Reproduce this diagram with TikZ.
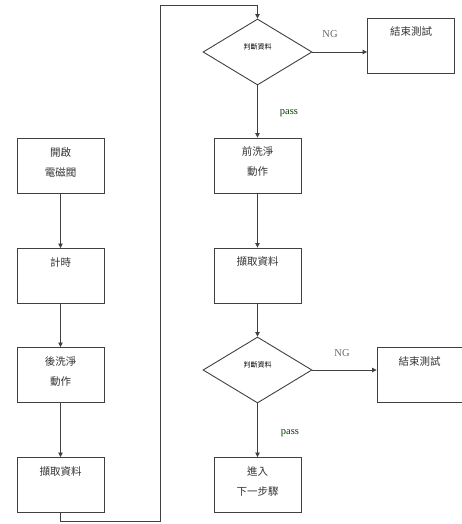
\documentclass[tikz,border=0pt]{standalone}
\usepackage{fontspec}
\newfontfamily\cjk{Noto Sans CJK TC}
\newfontfamily\lser{Liberation Serif}
\usetikzlibrary{shapes.geometric,arrows.meta}
\begin{document}
\begin{tikzpicture}[x=1pt,y=-1pt,
  box/.style={draw=black!75,line width=0.9pt,minimum width=87pt,minimum height=55pt,inner sep=0pt},
  boxtxt/.style={font=\cjk\fontsize{10.5}{20}\selectfont,text=black!80,align=center,anchor=north},
  dec/.style={draw=black!75,line width=0.9pt,diamond,aspect=1.66,minimum width=109pt,minimum height=66pt,inner sep=0pt},
  dtxt/.style={font=\cjk\fontsize{7}{8}\selectfont,text=black},
  conn/.style={draw=black!75,line width=0.8pt},
  arr/.style={conn,-{Triangle[length=4.5pt,width=4.5pt]}},
  lbl/.style={font=\lser\fontsize{10.5}{12}\selectfont,text=black!60},
  plbl/.style={lbl,text=black!50!green!50!black}]
\useasboundingbox (0,0) rectangle (462,524);
% left column
\node[box] (a1) at (60.5,166) {};
\node[boxtxt] at ([yshift=-6pt]a1.north) {開啟\\電磁閥};
\node[box] (a2) at (60.5,276) {};
\node[boxtxt] at ([yshift=-6pt]a2.north) {計時};
\node[box] (a3) at (60.5,375) {};
\node[boxtxt] at ([yshift=-6pt]a3.north) {後洗淨\\動作};
\node[box] (a4) at (60.5,485) {};
\node[boxtxt] at ([yshift=-6pt]a4.north) {擷取資料};
% right column
\node[dec] (d1) at (257.5,52) {};
\node[dtxt] at (257.5,47) {判斷資料};
\node[box] (e1) at (411,45.5) {};
\node[boxtxt] at ([yshift=-6pt]e1.north) {結束測試};
\node[box] (b1) at (257.5,165.5) {};
\node[boxtxt] at ([yshift=-6pt]b1.north) {前洗淨\\動作};
\node[box] (b2) at (257.5,275.5) {};
\node[boxtxt] at ([yshift=-6pt]b2.north) {擷取資料};
\node[dec] (d2) at (257.5,370) {};
\node[dtxt] at (257.5,365) {判斷資料};
\node[box,minimum width=85pt] (e2) at (419.5,375) {};
\node[boxtxt] at ([yshift=-6pt]e2.north) {結束測試};
\node[box] (b3) at (257.5,485) {};
\node[boxtxt] at ([yshift=-6pt]b3.north) {進入\\下一步驟};
% connectors
\draw[arr] (a1) -- (a2);
\draw[arr] (a2) -- (a3);
\draw[arr] (a3) -- (a4);
\coordinate (c1) at (60.5,521);
\coordinate (c2) at (160,521);
\coordinate (c3) at (160,5);
\coordinate (c4) at (257.5,5);
\draw[arr] (a4.south) -- (c1) -- (c2) -- (c3) -- (c4) -- (d1.north);
\draw[arr] (d1.east) -- (e1.west |- d1.east);
\draw[arr] (d1.south) -- (b1.north);
\draw[arr] (b1) -- (b2);
\draw[arr] (b2) -- (d2.north);
\draw[arr] (d2.east) -- (e2.west |- d2.east);
\draw[arr] (d2.south) -- (b3.north);
% labels
\node[lbl] at (330,34) {NG};
\node[lbl] at (342,353) {NG};
\node[plbl] at (289,113) {pass};
\node[plbl] at (290,433) {pass};
\end{tikzpicture}
\end{document}
